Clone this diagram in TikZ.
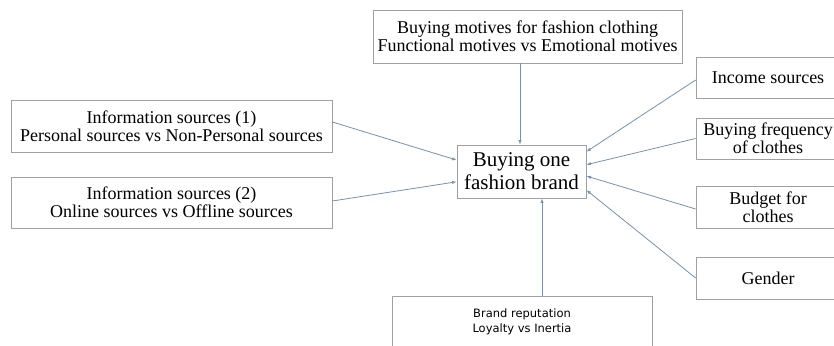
\documentclass[tikz,border=0pt]{standalone}
\usepackage{fontspec}
\setmainfont{Liberation Serif}
\newfontfamily\repfont{DejaVu Sans}
\usetikzlibrary{arrows.meta}
\definecolor{boxgray}{RGB}{160,160,160}
\definecolor{linkblue}{RGB}{118,146,172}

\begin{document}
\begin{tikzpicture}[x=1pt, y=-1pt,
    factor/.style={draw=boxgray, line width=0.8pt, align=center, inner sep=0pt,
        font=\fontsize{18}{18}\selectfont},
    link/.style={draw=linkblue, line width=0.8pt,
        -{Latex[open, length=4.5pt, width=3.5pt]}}]
    % Page size
    \clip (0,0) rectangle (834,345);
    \fill[white] (0,0) rectangle (834,345);

    % Central node
    \node[factor, minimum width=129, minimum height=53,
        font=\fontsize{21}{23}\selectfont] (brand) at (521.5,171.5)
        {Buying one\\fashion brand};

    % Factors round it
    \node[factor, minimum width=309, minimum height=53] (motives) at (527.5,36.5)
        {Buying motives for fashion clothing\\Functional motives vs Emotional motives};
    \node[factor, minimum width=321, minimum height=52] (info1) at (171.5,126)
        {Information sources (1)\\Personal sources vs Non-Personal sources};
    \node[factor, minimum width=321, minimum height=51] (info2) at (171.5,202.5)
        {Information sources (2)\\Online sources vs Offline sources};
    \node[factor, minimum width=144, minimum height=41] (income) at (768,77.5)
        {Income sources};
    \node[factor, minimum width=144, minimum height=41] (frequency) at (768,138.5)
        {Buying frequency\\of clothes};
    \node[factor, minimum width=144, minimum height=42] (budget) at (768,207)
        {Budget for\\clothes};
    \node[factor, minimum width=144, minimum height=42] (gender) at (768,278)
        {Gender};
    \node[factor, minimum width=260, minimum height=52,
        font=\repfont\fontsize{11.5}{15}\selectfont] (reputation) at (522,322)
        {Brand reputation\\Loyalty vs Inertia};

    % Arrows into the central node
    \draw[link] ([xshift=-1.5pt]motives.south -| brand.north) -- ([xshift=-1.5pt]brand.north);
    \draw[link] ([yshift=4pt]info1.east) -- (brand.170);
    \draw[link] ([yshift=1.5pt]info2.east) -- (brand.189);
    \draw[link] ([yshift=-2.5pt]income.west) -- (brand.17);
    \draw[link] (frequency.west) -- (brand.6);
    \draw[link] ([yshift=-2pt]budget.west) -- (brand.-4);
    \draw[link] (gender.west) -- (brand.-16);
    \draw[link] ([xshift=20pt]reputation.north) -- ([xshift=20.5pt]brand.south);
\end{tikzpicture}
\end{document}
